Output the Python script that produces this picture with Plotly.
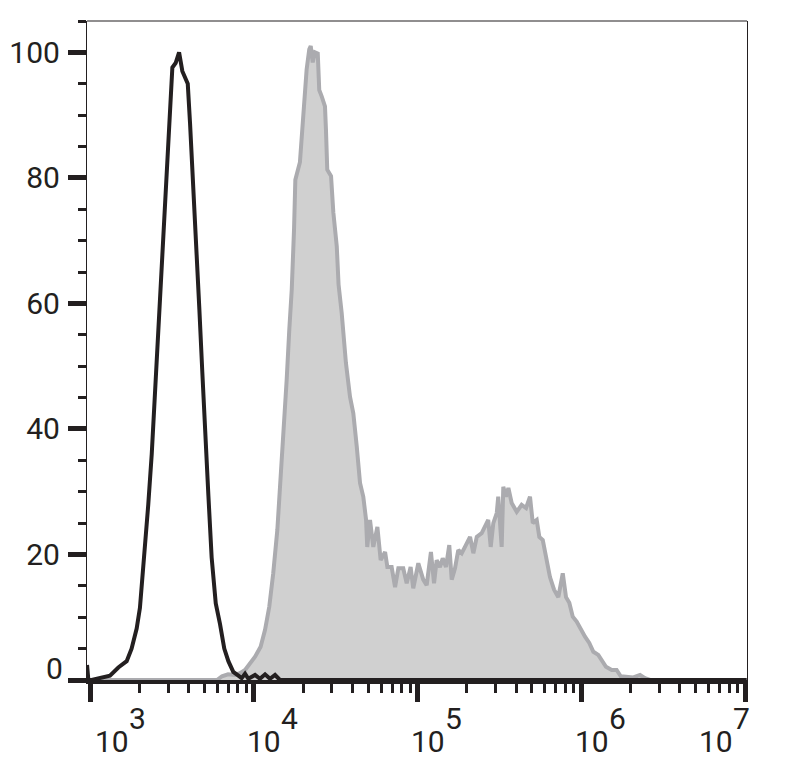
import plotly.graph_objects as go

# ---------------- data ----------------
# positions on the log10 fluorescence axis and % of max
gray_log_fl = [2.988, 3.776, 3.806, 3.843, 3.885, 3.916, 3.947, 3.977, 4.008, 4.042,
               4.069, 4.095, 4.119, 4.144, 4.165, 4.180, 4.201, 4.217, 4.232, 4.246,
               4.254, 4.282, 4.295, 4.313, 4.323, 4.339, 4.348, 4.360, 4.374, 4.391,
               4.400, 4.415, 4.435, 4.441, 4.449, 4.472, 4.486, 4.507, 4.518, 4.537,
               4.563, 4.588, 4.608, 4.629, 4.649, 4.669, 4.686, 4.693, 4.710, 4.730,
               4.755, 4.775, 4.802, 4.816, 4.842, 4.863, 4.883, 4.913, 4.934, 4.958,
               4.974, 5.005, 5.035, 5.056, 5.082, 5.101, 5.117, 5.137, 5.154, 5.174,
               5.194, 5.209, 5.229, 5.249, 5.270, 5.290, 5.321, 5.341, 5.362, 5.392,
               5.412, 5.432, 5.447, 5.463, 5.484, 5.493, 5.514, 5.524, 5.540, 5.555,
               5.575, 5.606, 5.636, 5.663, 5.687, 5.704, 5.728, 5.744, 5.765, 5.789,
               5.809, 5.834, 5.860, 5.887, 5.907, 5.927, 5.948, 5.972, 5.997, 6.023,
               6.049, 6.074, 6.104, 6.125, 6.151, 6.186, 6.216, 6.241, 6.278, 6.318,
               6.359, 6.389, 6.420, 7.010]
gray_pct = [0, 0, 0.6, 0.9, 0.8, 1.1, 1.6, 2.7, 3.7, 5.3,
            8.0, 11.7, 17.0, 23.9, 31.9, 39.9, 47.8, 55.8, 62.2, 71.8,
            79.7, 82.5, 87.7, 93.0, 97.3, 100.5, 101.0, 98.4, 100.0, 99.8,
            94.0, 93.0, 91.4, 87.7, 81.3, 80.3, 74.5, 69.1, 63.0, 58.5,
            50.5, 45.1, 42.5, 37.2, 31.4, 29.2, 25.5, 21.2, 25.5, 21.2,
            24.4, 19.1, 20.4, 18.0, 18.0, 14.8, 17.8, 17.8, 15.4, 18.0,
            14.6, 18.6, 16.0, 15.1, 20.4, 15.4, 19.1, 18.0, 19.4, 18.0,
            21.5, 16.0, 17.8, 20.7, 20.2, 21.2, 22.8, 20.2, 22.8, 23.4,
            24.4, 25.5, 21.2, 25.0, 26.6, 29.2, 21.2, 30.8, 29.2, 30.6,
            28.2, 26.8, 27.9, 27.4, 29.2, 25.0, 25.5, 22.8, 22.3, 19.1,
            16.4, 14.4, 13.2, 17.0, 13.2, 12.3, 10.1, 9.3, 8.0, 6.9,
            5.9, 4.5, 4.0, 3.2, 2.1, 1.6, 1.6, 0.6, 0.5, 0.4,
            0.8, 0.3, 0, 0]

black_log_fl = [2.982, 2.990, 3.010, 3.071, 3.122, 3.173, 3.224, 3.254, 3.285, 3.305,
                3.332, 3.356, 3.377, 3.397, 3.417, 3.438, 3.458, 3.478, 3.503, 3.523,
                3.544, 3.564, 3.597, 3.611, 3.631, 3.652, 3.668, 3.686, 3.702, 3.723,
                3.743, 3.768, 3.794, 3.820, 3.845, 3.875, 3.906, 3.926, 3.947, 3.967,
                4.008, 4.038, 4.069, 4.099, 4.130, 4.160, 7.010]
black_pct = [2.4, 0, 0, 0.3, 0.7, 2.0, 3.0, 5.0, 8.2, 11.5,
             19.5, 28.0, 36.0, 46.0, 56.0, 65.0, 74.0, 85.0, 97.6, 98.3,
             100.0, 97.0, 95.0, 88.7, 78.8, 69.0, 59.0, 49.0, 39.0, 29.4,
             19.5, 12.2, 8.9, 5.0, 3.0, 1.3, 0.7, 0.3, 1.0, 0.2,
             0.8, 0.2, 0.9, 0.2, 0.8, 0, 0]

x_decades = [3, 4, 5, 6, 7]
y_tick_vals = [0, 20, 40, 60, 80, 100]
y_tick_text = ["", "20", "40", "60", "80", "100"]

# ---------------- style constants ----------------
INK = "#231f20"
FONT = "Roboto"
FS = 30
x_label_shift = [40, 28, 28, 29, -11]   # horizontal offsets of decade labels (px)

fig = go.Figure()
fig.add_trace(go.Scatter(
    x=[10 ** v for v in gray_log_fl], y=gray_pct, mode="lines",
    fill="tozeroy", fillcolor="#d0d0d0",
    line=dict(color="#ababaf", width=4), hoverinfo="skip", showlegend=False))
fig.add_trace(go.Scatter(
    x=[10 ** v for v in black_log_fl], y=black_pct, mode="lines",
    line=dict(color=INK, width=4), hoverinfo="skip", showlegend=False))

fig.update_xaxes(
    type="log", range=[2.9817, 7.0122], automargin=False,
    showgrid=False, zeroline=False,
    showline=True, linecolor=INK, linewidth=4,
    tickvals=[10 ** d for d in x_decades], showticklabels=False,
    ticks="outside", ticklen=18, tickwidth=5, tickcolor=INK,
    minor=dict(ticks="outside", ticklen=9, tickwidth=3, tickcolor=INK,
               dtick="D1", showgrid=False),
)
fig.update_yaxes(
    range=[0, 105], automargin=False,
    showgrid=False, zeroline=False,
    showline=True, linecolor=INK, linewidth=1.2, mirror=True,
    tickvals=y_tick_vals, ticktext=y_tick_text,
    ticks="outside", ticklen=18, tickwidth=5, tickcolor=INK,
    tickfont=dict(family=FONT, size=FS, color=INK),
    ticklabelstandoff=2,
    minor=dict(ticks="outside", ticklen=8, tickwidth=3, tickcolor=INK,
               dtick=5, showgrid=False),
)

ann = []
for d, sh in zip(x_decades, x_label_shift):
    ann.append(dict(x=d, xref="x", y=0, yref="paper", text="10",
                    xanchor="right", yanchor="middle", xshift=sh, yshift=-61,
                    borderpad=0,
                    showarrow=False, font=dict(family=FONT, size=FS, color=INK)))
    ann.append(dict(x=d, xref="x", y=0, yref="paper", text=str(d),
                    xanchor="left", yanchor="middle", xshift=sh - 2, yshift=-38,
                    borderpad=0,
                    showarrow=False, font=dict(family=FONT, size=FS, color=INK)))
ann.append(dict(x=0, xref="paper", y=0, yref="y", text="0",
                xanchor="right", yanchor="middle", xshift=-23, yshift=12,
                borderpad=0,
                showarrow=False, font=dict(family=FONT, size=FS, color=INK)))

# the page adds an 8 px body margin, so the figure is 8 px smaller each way
fig.update_layout(
    template="none",
    width=779, height=757,
    margin=dict(l=79, r=40, t=13, b=85),
    paper_bgcolor="white", plot_bgcolor="white",
    annotations=ann,
    shapes=[dict(type="line", xref="paper", yref="paper", x0=0, x1=1, y0=1, y1=1,
                 line=dict(color=INK, width=1.2))],
)

fig.write_html("out.html")
